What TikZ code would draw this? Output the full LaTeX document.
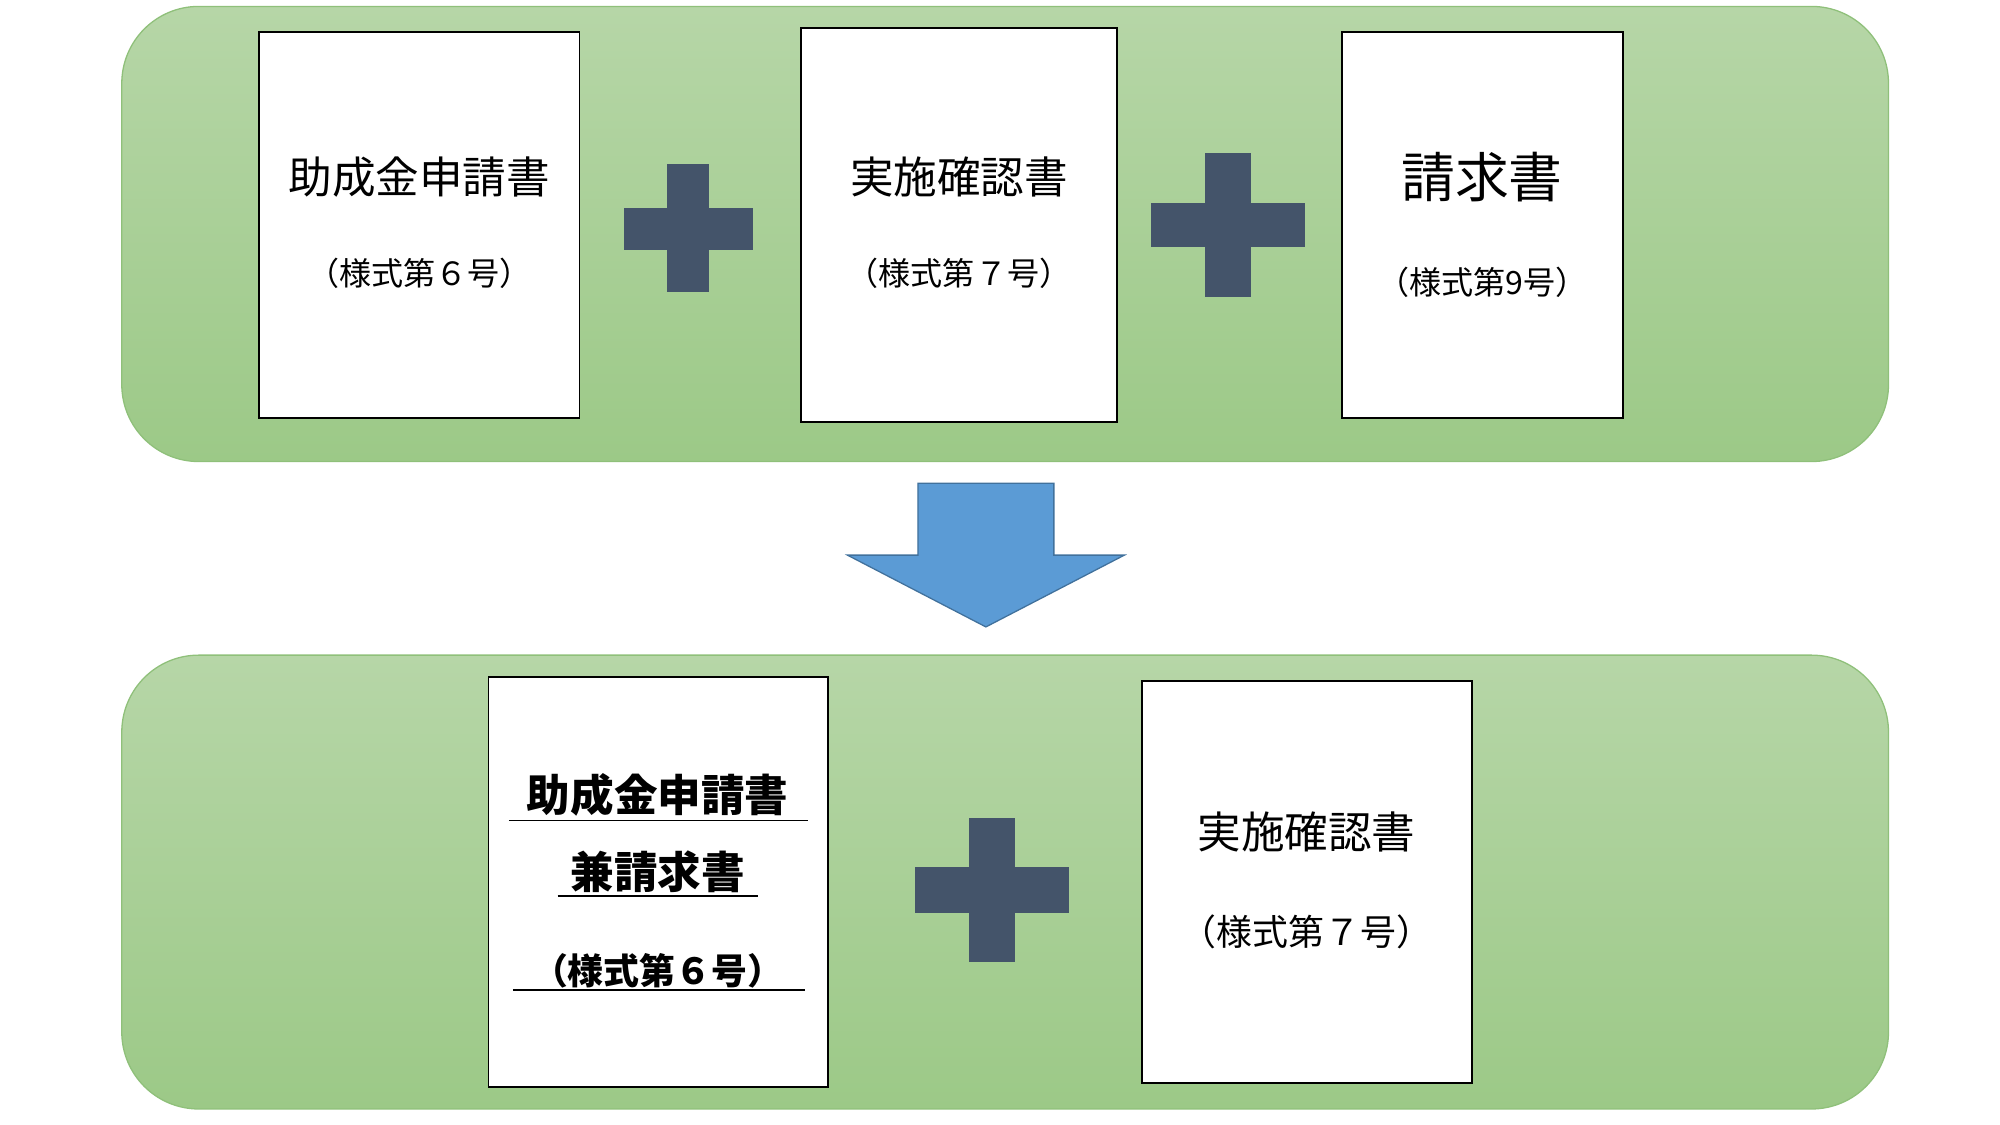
\documentclass[tikz,border=0pt]{standalone}
\usepackage{fontspec}
\setmainfont{Noto Sans CJK JP}
\usetikzlibrary{calc}
\definecolor{gtop}{HTML}{B6D6A7}
\definecolor{gbot}{HTML}{9CC987}
\definecolor{gline}{HTML}{8FC07A}
\definecolor{plusc}{HTML}{44546A}
\definecolor{arrf}{HTML}{5B9BD5}
\definecolor{arrd}{HTML}{41719C}
\tikzset{
  panel/.style={draw=gline,line width=1pt,rounded corners=60pt,top color=gtop,bottom color=gbot},
  doc/.style={draw=black,line width=1.5pt,fill=white},
  big/.style={font=\fontsize{34}{40}\selectfont},
  small/.style={font=\fontsize{25}{30}\selectfont},
  bbig/.style={font=\bfseries\fontsize{34}{40}\selectfont},
  bsmall/.style={font=\bfseries\fontsize{28}{32}\selectfont},
  plusbar/.style={fill=plusc,draw=none}
}
\begin{document}
\begin{tikzpicture}[x=1pt,y=-1pt]
\useasboundingbox (0,0) rectangle (1560,877.5);
% panels
\draw[panel] (95,5) rectangle (1473,360);
\draw[panel] (95,511) rectangle (1473,865);
% top docs
\draw[doc] (202,25) rectangle (452,326);
\draw[doc] (625,22) rectangle (871,329);
\draw[doc] (1047,25) rectangle (1266,326);
\node[big] (t1) at (327,138) {助成金申請書};
\node[small] (s1) at (327,213) {（様式第６号）};
\node[big] (t2) at (748,138) {実施確認書};
\node[small] (s2) at (748,213) {（様式第７号）};
\node[big,font=\fontsize{42}{46}\selectfont] (t3) at (1156,138) {請求書};
\node[small] (s3) at (1156,220) {（様式第9号）};
% plus signs
\fill[plusc] (487,162) rectangle (587,195);
\fill[plusc] (520,128) rectangle (553,228);
\fill[plusc] (898,158) rectangle (1018,193);
\fill[plusc] (940,119) rectangle (976,232);
% arrow
\draw[fill=arrf,draw=arrd,line width=1pt] (716,377) -- (822,377) -- (822,433) -- (877,433) -- (769,489) -- (661,433) -- (716,433) -- cycle;
% bottom docs
\draw[doc] (381,528) rectangle (646,848);
\draw[doc] (891,531) rectangle (1148,845);
\node[bbig] (b1) at (513,620) {助成金申請書};
\draw[line width=1.5pt] (397,640) -- (630,640);
\node[bbig] (b2) at (513,680) {兼請求書};
\draw[line width=1.5pt] (435,699) -- (591,699);
\node[bsmall] (b3) at (513,757) {（様式第６号）};
\draw[line width=1.5pt] (400,772) -- (628,772);
\fill[plusc] (714,676) rectangle (834,712);
\fill[plusc] (756,638) rectangle (792,750);
\node[big] (t4) at (1019,649) {実施確認書};
\node[small,font=\fontsize{28}{32}\selectfont] (s4) at (1019,727) {（様式第７号）};
\end{tikzpicture}
\end{document}
